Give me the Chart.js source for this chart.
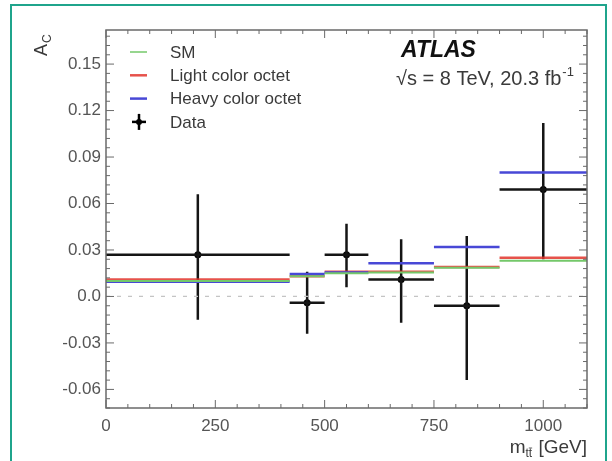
<!DOCTYPE html>
<html>
<head>
<meta charset="utf-8">
<script src="https://cdn.jsdelivr.net/npm/chart.js@4.4.0/dist/chart.umd.min.js"></script>
<style>
  html, body { margin: 0; padding: 0; background: #fff; }
  #frame { position: absolute; left: 10px; top: 4px; width: 597px; height: 480px; border: 2px solid #1fa48c; box-sizing: border-box; }
  #wrap { position: absolute; left: 0; top: 0; width: 612px; height: 461px; }
</style>
</head>
<body>
<div id="frame"></div>
<div id="wrap"><canvas id="myChart"></canvas></div>
<script>
// bins in m_tt (GeV)
var binEdges = [0, 420, 500, 600, 750, 900, 1100];

// measured charge asymmetry with total uncertainty
var dataX = [210, 460, 550, 675, 825, 1000];
var dataAc = [0.027, -0.004, 0.027, 0.011, -0.006, 0.069];
var dataLow = [-0.015, -0.024, 0.006, -0.017, -0.054, 0.024];
var dataHigh = [0.066, 0.016, 0.047, 0.037, 0.039, 0.112];

// predictions per bin
var smAc = [0.010, 0.013, 0.015, 0.0155, 0.0185, 0.023];
var lightAc = [0.011, 0.013, 0.016, 0.016, 0.019, 0.025];
var heavyAc = [0.0095, 0.0145, 0.0155, 0.0215, 0.032, 0.080];

var xTicks = [0, 250, 500, 750, 1000];
var yTicks = [-0.06, -0.03, 0, 0.03, 0.06, 0.09, 0.12, 0.15];

var RED = 'rgba(226, 52, 44, 0.85)';
var BLUE = '#4848d6';
var GREEN = '#74c86a';
var FONT = '"Liberation Sans", Arial, sans-serif';

function steps(vals) {
    var pts = [];
    vals.forEach(function (v, i) {
        pts.push({x: binEdges[i], y: v}, {x: binEdges[i + 1], y: v}, {x: binEdges[i + 1], y: null});
    });
    return pts;
}

function errorBars() {
    var pts = [];
    dataAc.forEach(function (v, i) {
        pts.push({x: dataX[i], y: dataLow[i]}, {x: dataX[i], y: dataHigh[i]}, {x: dataX[i], y: null});
        pts.push({x: binEdges[i], y: v}, {x: binEdges[i + 1], y: v}, {x: binEdges[i + 1], y: null});
    });
    return pts;
}

function seg(ctx, x1, y1, x2, y2) {
    ctx.beginPath();
    ctx.moveTo(x1, y1);
    ctx.lineTo(x2, y2);
    ctx.stroke();
}

// frame, inward ticks, legend and labels
var atlasDecor = {
    id: 'atlasDecor',
    afterDraw: function (chart) {
        var ctx = chart.ctx, a = chart.chartArea;
        var xs = chart.scales.x, ys = chart.scales.y;
        ctx.save();

        ctx.strokeStyle = '#6a6a6a';
        ctx.lineWidth = 1.5;
        ctx.strokeRect(a.left, a.top, a.right - a.left, a.bottom - a.top);

        ctx.lineWidth = 1;
        for (var v = 0; v <= 1100; v += 50) {
            var px = xs.getPixelForValue(v);
            var len = v % 250 === 0 ? 8 : 4;
            seg(ctx, px, a.bottom, px, a.bottom - len);
            seg(ctx, px, a.top, px, a.top + len);
        }
        for (var k = -12; k <= 28; k++) {
            var py = ys.getPixelForValue(k * 0.006);
            var l2 = k % 5 === 0 ? 8 : 4;
            seg(ctx, a.left, py, a.left + l2, py);
            seg(ctx, a.right, py, a.right - l2, py);
        }

        // legend
        var lx = a.left + 24, tx = a.left + 64, ly = a.top + 22, dy = 23.3;
        var entries = [
            {label: 'SM', color: GREEN, w: 1.5},
            {label: 'Light color octet', color: RED, w: 2.5},
            {label: 'Heavy color octet', color: BLUE, w: 2.5},
            {label: 'Data', color: '#000', w: 2.5}
        ];
        ctx.font = '17px ' + FONT;
        ctx.textBaseline = 'middle';
        ctx.textAlign = 'left';
        entries.forEach(function (e, i) {
            var y = ly + i * dy;
            ctx.strokeStyle = e.color;
            ctx.lineWidth = e.w;
            if (e.label === 'Data') {
                seg(ctx, lx + 2, y, lx + 16, y);
                seg(ctx, lx + 9, y - 8, lx + 9, y + 8);
                ctx.fillStyle = '#000';
                ctx.beginPath();
                ctx.arc(lx + 9, y, 3, 0, Math.PI * 2);
                ctx.fill();
            } else {
                seg(ctx, lx, y, lx + 17, y);
            }
            ctx.fillStyle = '#3a3a3a';
            ctx.fillText(e.label, tx, y + 1);
        });

        // experiment label
        ctx.fillStyle = '#111';
        ctx.font = 'italic bold 23px ' + FONT;
        ctx.fillText('ATLAS', 401, 51);
        ctx.fillStyle = '#3a3a3a';
        ctx.font = '20px ' + FONT;
        var s1 = '\u221As = 8 TeV, 20.3 fb';
        ctx.fillText(s1, 396, 79);
        var w1 = ctx.measureText(s1).width;
        ctx.font = '13px ' + FONT;
        ctx.fillText('-1', 396 + w1 + 1, 72);

        // y axis title A_C
        ctx.save();
        ctx.translate(47, 56);
        ctx.rotate(-Math.PI / 2);
        ctx.font = '18px ' + FONT;
        ctx.textBaseline = 'alphabetic';
        ctx.fillText('A', 0, 0);
        var wa = ctx.measureText('A').width;
        ctx.font = '12px ' + FONT;
        ctx.fillText('C', wa + 1, 4);
        ctx.restore();

        // x axis title m_tt [GeV]
        ctx.textBaseline = 'alphabetic';
        ctx.font = '19px ' + FONT;
        var tail = ' [GeV]';
        var wt = ctx.measureText(tail).width;
        var wm = ctx.measureText('m').width;
        ctx.font = '12px ' + FONT;
        var ws = ctx.measureText('tt').width;
        var base = 453;
        var x0 = a.right - wt - ws - wm - 1;
        ctx.font = '19px ' + FONT;
        ctx.fillText('m', x0, base);
        ctx.fillText(tail, x0 + wm + ws + 1, base);
        ctx.font = '12px ' + FONT;
        ctx.fillText('tt', x0 + wm, base + 4);
        var wt1 = ctx.measureText('t').width;
        ctx.strokeStyle = '#3a3a3a';
        ctx.lineWidth = 0.8;
        seg(ctx, x0 + wm + wt1, base - 5, x0 + wm + ws, base - 5);

        ctx.restore();
    }
};

var ctx = document.getElementById('myChart').getContext('2d');
var myChart = new Chart(ctx, {
    type: 'scatter',
    data: {
        datasets: [
            {
                label: 'zero',
                data: [{x: 0, y: 0}, {x: 1100, y: 0}],
                showLine: true, borderColor: '#c4c4c4', borderWidth: 1.2,
                borderDash: [4, 7], pointRadius: 0
            },
            {
                label: 'SM', data: steps(smAc), showLine: true,
                borderColor: GREEN, borderWidth: 2, pointRadius: 0, spanGaps: false
            },
            {
                label: 'Heavy color octet', data: steps(heavyAc), showLine: true,
                borderColor: BLUE, borderWidth: 2.5, pointRadius: 0, spanGaps: false
            },
            {
                label: 'Light color octet', data: steps(lightAc), showLine: true,
                borderColor: RED, borderWidth: 2.5, pointRadius: 0, spanGaps: false
            },
            {
                label: 'Data errors', data: errorBars(), showLine: true,
                borderColor: '#151515', borderWidth: 2.5, pointRadius: 0, spanGaps: false
            },
            {
                label: 'Data',
                data: dataAc.map(function (v, i) { return {x: dataX[i], y: v}; }),
                pointRadius: 3.5, pointBackgroundColor: '#000', pointBorderWidth: 0
            }
        ]
    },
    options: {
        responsive: true,
        maintainAspectRatio: false,
        animation: false,
        layout: {padding: {left: 0, right: 25, top: 30, bottom: 0}},
        plugins: {legend: {display: false}, tooltip: {enabled: false}},
        scales: {
            x: {
                type: 'linear', min: 0, max: 1100,
                grid: {display: false, drawTicks: false},
                border: {display: false},
                afterBuildTicks: function (scale) {
                    scale.ticks = xTicks.map(function (v) { return {value: v}; });
                },
                afterFit: function (scale) { scale.height = 53; },
                ticks: {
                    padding: 8, color: '#555',
                    font: {family: FONT, size: 17},
                    callback: function (v) { return String(v); }
                }
            },
            y: {
                type: 'linear', min: -0.072, max: 0.172,
                grid: {display: false, drawTicks: false},
                border: {display: false},
                afterBuildTicks: function (scale) {
                    scale.ticks = yTicks.map(function (v) { return {value: v}; });
                },
                afterFit: function (scale) { scale.width = 106; },
                ticks: {
                    padding: 5, color: '#555',
                    font: {family: FONT, size: 17},
                    callback: function (v) { return v === 0 ? '0.0' : v.toFixed(2); }
                }
            }
        }
    },
    plugins: [atlasDecor]
});
</script>
</body>
</html>
